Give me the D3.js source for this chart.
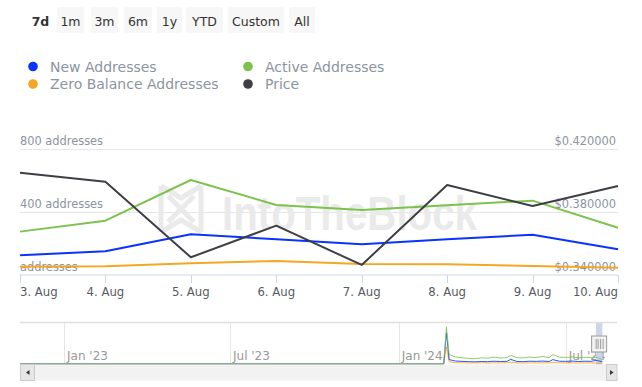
<!DOCTYPE html>
<html><head><meta charset="utf-8">
<script src="https://cdn.jsdelivr.net/npm/d3@7"></script>
<style>
html,body{margin:0;padding:0;background:#fff;}
svg{display:block;font-family:"DejaVu Sans",sans-serif;}
</style></head>
<body><svg id="c" width="642" height="387"></svg>
<script>
// ---- data ----
const dates = ["2024-08-03","2024-08-04","2024-08-05","2024-08-06","2024-08-07","2024-08-08","2024-08-09","2024-08-10"];
const xTickLabels = ["3. Aug","4. Aug","5. Aug","6. Aug","7. Aug","8. Aug","9. Aug","10. Aug"];
const newAddresses = [123,148,257,225,193,225,254,161];
const activeAddresses = [274,344,604,444,412,443,472,299];
const zeroBalance = [50,52,72,86,67,65,54,43];
const price = [0.4050,0.3993,0.3510,0.3712,0.3461,0.3972,0.3838,0.3966];
const leftTicks = [0,400,800];
const leftTickLabels = ["addresses","400 addresses","800 addresses"];
const rightTicks = [0.34,0.38,0.42];
const rightTickLabels = ["$0.340000","$0.380000","$0.420000"];
const rangeButtons = ["7d","1m","3m","6m","1y","YTD","Custom","All"];
const legendItems = ["New Addresses","Active Addresses","Zero Balance Addresses","Price"];
// navigator (overview) data
const navDates = ["2022-11-14","2024-02-19","2024-02-22","2024-02-25","2024-03-03","2024-03-10","2024-03-17","2024-03-24","2024-03-31","2024-04-07","2024-04-14","2024-04-21","2024-04-28","2024-05-02","2024-05-09","2024-05-16","2024-05-23","2024-05-30","2024-06-06","2024-06-13","2024-06-17","2024-06-24","2024-07-01","2024-07-08","2024-07-15","2024-07-22","2024-07-29","2024-08-03","2024-08-10"];
const navActive = [0,0,2550,650,480,430,380,360,420,400,470,410,440,600,430,420,470,440,520,430,650,470,450,480,430,460,440,470,300];
const navNew = [0,0,2150,300,200,180,160,150,170,160,190,170,180,320,170,160,190,180,200,170,300,190,180,200,170,190,180,250,160];
const navZero = [0,0,1170,150,90,80,70,70,80,70,80,75,80,120,75,70,80,75,85,75,110,80,75,80,70,80,75,65,45];
const navTicks = ["2023-01-01","2023-07-01","2024-01-01","2024-07-01"];
const navTickLabels = ["Jan '23","Jul '23","Jan '24","Jul '24"];

const colors = {new:"#0a33ff", active:"#7cc34d", zero:"#f5a623", price:"#3d3f44"};
const textGray = "#8b95a1";

const svg = d3.select("#c");
const parse = d3.utcParse("%Y-%m-%d");

// ---- range buttons ----
const btnPos = [[33,48],[57,84],[91,118],[124,152],[157,182],[186,223],[228,284],[289,315]];
const bg = svg.append("g");
rangeButtons.forEach((b,i)=>{
  const [x0,x1] = btnPos[i];
  if(i>0) bg.append("rect").attr("x",x0).attr("y",7).attr("width",x1-x0).attr("height",26).attr("rx",2).attr("fill","#f7f7f7");
  bg.append("text").attr("x",(x0+x1)/2).attr("y",26).attr("text-anchor","middle")
    .attr("font-size",12.5).attr("font-weight",i===0?"bold":"normal").attr("fill","#333").text(b);
});

// ---- legend ----
const legColors = [colors.new, colors.active, colors.zero, colors.price];
const legPos = [[33,66.5],[248,66.5],[33,84],[248,84]];
legendItems.forEach((t,i)=>{
  const [cx,cy] = legPos[i];
  svg.append("circle").attr("cx",cx).attr("cy",cy).attr("r",4.8).attr("fill",legColors[i]);
  svg.append("text").attr("x",cx+17).attr("y",cy+5).attr("font-size",14).attr("fill",textGray).text(t);
});

// ---- scales ----
const x = d3.scaleUtc().domain([parse(dates[0]), parse(dates[dates.length-1])]).range([20,618]);
const yL = d3.scaleLinear().domain([0,800]).range([274.5,149.3]);
const yR = d3.scaleLinear().domain([0.34,0.42]).range([274.5,149.3]);

// gridlines
svg.append("g").selectAll("line").data(leftTicks.slice(1)).join("line")
  .attr("x1",20).attr("x2",618).attr("y1",d=>Math.round(yL(d))+0.5).attr("y2",d=>Math.round(yL(d))+0.5)
  .attr("stroke","#e6e6e6");

// watermark
const wm = svg.append("g").attr("fill","none").attr("stroke","#eaeaea").attr("stroke-width",5).attr("stroke-linejoin","miter");
wm.append("path").attr("d","M161,186 L161,232 M161,186 L181,198 L201,186 M161,232 L181,220 L201,232 M201,186 L201,232 M168,196 L194,222 M194,196 L168,222");
svg.append("text").attr("x",222).attr("y",230).attr("font-family","Liberation Sans, Arial, sans-serif")
  .attr("font-weight","bold").attr("font-size",48).attr("fill","#eaeaea").attr("textLength",255).attr("lengthAdjust","spacingAndGlyphs").text("IntoTheBlock");

// axis line and ticks
svg.append("line").attr("x1",20).attr("x2",618).attr("y1",275).attr("y2",275).attr("stroke","#ccd6eb");
const xTicks = dates.map(parse);
svg.append("g").selectAll("line").data(xTicks).join("line")
  .attr("x1",d=>Math.round(x(d))+0.5).attr("x2",d=>Math.round(x(d))+0.5).attr("y1",275).attr("y2",283).attr("stroke","#ccd6eb");
svg.append("g").selectAll("text").data(xTicks).join("text")
  .attr("x",d=>x(d)).attr("y",295.5)
  .attr("text-anchor",(d,i)=>i===0?"start":(i===xTicks.length-1?"end":"middle"))
  .attr("font-size",11.7).attr("fill","#555b63").text((d,i)=>xTickLabels[i]);

// y labels
svg.append("g").selectAll("text").data(leftTicks).join("text")
  .attr("x",20).attr("y",d=>yL(d)-4).attr("font-size",11.4).attr("fill",textGray).text((d,i)=>leftTickLabels[i]);
svg.append("g").selectAll("text").data(rightTicks).join("text")
  .attr("x",616).attr("y",d=>yR(d)-4).attr("text-anchor","end").attr("font-size",11.4).attr("fill",textGray).text((d,i)=>rightTickLabels[i]);

// lines
const mk = (arr, sc) => d3.line().x((d,i)=>x(parse(dates[i]))).y(d=>sc(d))(arr);
[[newAddresses,yL,colors.new],[activeAddresses,yL,colors.active],[zeroBalance,yL,colors.zero],[price,yR,colors.price]].forEach(([a,s,c])=>{
  svg.append("path").attr("d",mk(a,s)).attr("fill","none").attr("stroke",c).attr("stroke-width",2).attr("stroke-linejoin","round");
});

// ---- navigator ----
const nx = d3.scaleUtc().domain([parse("2022-11-14"), parse("2024-08-26")]).range([20,617]);
const ny = d3.scaleLinear().domain([0,2600]).range([364,326]);
svg.append("g").selectAll("line").data(navTicks.map(parse)).join("line")
  .attr("x1",d=>Math.round(nx(d))+0.5).attr("x2",d=>Math.round(nx(d))+0.5).attr("y1",323).attr("y2",364).attr("stroke","#e6e6e6");
svg.append("g").selectAll("text").data(navTicks.map(parse)).join("text")
  .attr("x",d=>nx(d)+3).attr("y",360).attr("font-size",12).attr("fill","#999").text((d,i)=>navTickLabels[i]);
// selection shade
svg.append("rect").attr("x",nx(parse(dates[0]))).attr("y",323).attr("width",nx(parse(dates[7]))-nx(parse(dates[0]))).attr("height",42).attr("fill","#ccd6eb");
const nl = arr => d3.line().x((d,i)=>nx(parse(navDates[i]))).y(d=>ny(d))(arr);
[[navZero,colors.zero],[navNew,colors.new],[navActive,colors.active]].forEach(([a,c])=>{
  svg.append("path").attr("d",nl(a)).attr("fill","none").attr("stroke",c).attr("stroke-width",1).attr("opacity",0.85);
});
svg.append("line").attr("x1",20).attr("x2",617).attr("y1",322.5).attr("y2",322.5).attr("stroke","#e0e0e0").attr("stroke-width",1.5);
// handles
const hx = (nx(parse(dates[0]))+nx(parse(dates[7])))/2;
svg.append("rect").attr("x",hx-7.5).attr("y",336).attr("width",15).attr("height",16).attr("fill","#f2f2f2").attr("stroke","#999");
[-3,-1,1.5,4].forEach(o=>svg.append("line").attr("x1",hx+o).attr("x2",hx+o).attr("y1",339).attr("y2",349).attr("stroke","#999"));
// scrollbar
svg.append("rect").attr("x",20.5).attr("y",364.5).attr("width",596).attr("height",16).attr("fill","#f2f2f2");
svg.append("rect").attr("x",20.5).attr("y",364.5).attr("width",14).attr("height",16).attr("fill","#e6e6e6").attr("stroke","#ccc");
svg.append("rect").attr("x",606.5).attr("y",364.5).attr("width",10.5).attr("height",16).attr("fill","#e6e6e6").attr("stroke","#ccc");
svg.append("path").attr("d","M29.5,370 L26,372.5 L29.5,375 Z").attr("fill","#333");
svg.append("path").attr("d","M610,370 L613.5,372.5 L610,375 Z").attr("fill","#333");
</script></body></html>
